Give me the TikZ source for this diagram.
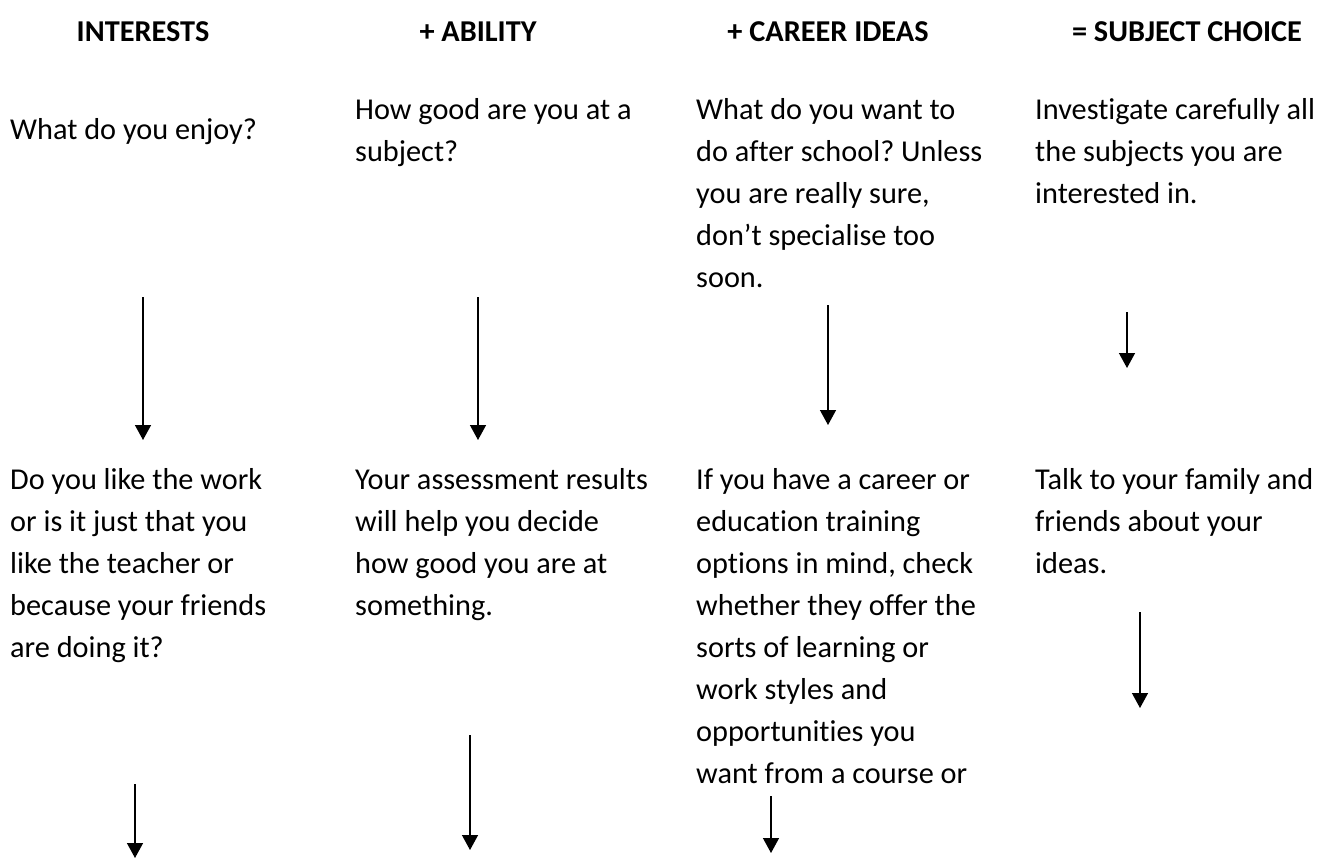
\documentclass[tikz,border=0pt]{standalone}
\usepackage{fontspec}
\setmainfont{Carlito}[Ligatures={NoCommon}]
\frenchspacing
\usetikzlibrary{arrows.meta}
\tikzset{
  txt/.style={anchor=base west, inner sep=0pt, align=left, font=\fontsize{30.3}{42}\selectfont},
  hdr/.style={anchor=base, inner sep=0pt, font=\fontsize{30.3}{42}\selectfont\bfseries},
  arr/.style={line width=1.4pt, -{Triangle[width=16pt,length=15pt]}}
}
\begin{document}
\begin{tikzpicture}[x=1pt,y=-1pt]
\useasboundingbox (0,0) rectangle (1325,863);
% headers (base anchor = baseline)
\node[hdr] (h1) at (143,41) {INTERESTS};
\node[hdr] (h2) at (478,41) {+ ABILITY};
\node[hdr] (h3) at (828,41) {+ CAREER IDEAS};
\node[hdr] (h4) at (1187,41) {= SUBJECT CHOICE};
% top texts (base anchor = baseline of the last line)
\node[txt] (t1) at (10,139) {What do you enjoy?};
\node[txt] (t2) at (355,161) {How good are you at a\\subject?};
\node[txt] (t3) at (696,287) {What do you want to\\do after school? Unless\\you are really sure,\\don’t specialise too\\soon.};
\node[txt] (t4) at (1035,203) {Investigate carefully all\\the subjects you are\\interested in.};
% bottom texts
\node[txt] (b1) at (10,657) {Do you like the work\\or is it just that you\\like the teacher or\\because your friends\\are doing it?};
\node[txt] (b2) at (355,615) {Your assessment results\\will help you decide\\how good you are at\\something.};
\node[txt] (b3) at (696,783) {If you have a career or\\education training\\options in mind, check\\whether they offer the\\sorts of learning or\\work styles and\\opportunities you\\want from a course or};
\node[txt] (b4) at (1035,573) {Talk to your family and\\friends about your\\ideas.};
% arrow coordinates
\coordinate (a1s) at (143,297); \coordinate (a1e) at (143,440);
\coordinate (a2s) at (478,297); \coordinate (a2e) at (478,440);
\coordinate (a3s) at (828,305); \coordinate (a3e) at (828,425);
\coordinate (a4s) at (1127,312); \coordinate (a4e) at (1127,368);
\coordinate (c1s) at (135,784); \coordinate (c1e) at (135,858);
\coordinate (c2s) at (470,735); \coordinate (c2e) at (470,850);
\coordinate (c3s) at (771,796); \coordinate (c3e) at (771,853);
\coordinate (c4s) at (1140,612); \coordinate (c4e) at (1140,708);
\draw[arr] (a1s) -- (a1e);
\draw[arr] (a2s) -- (a2e);
\draw[arr] (a3s) -- (a3e);
\draw[arr] (a4s) -- (a4e);
\draw[arr] (c1s) -- (c1e);
\draw[arr] (c2s) -- (c2e);
\draw[arr] (c3s) -- (c3e);
\draw[arr] (c4s) -- (c4e);
\end{tikzpicture}
\end{document}
